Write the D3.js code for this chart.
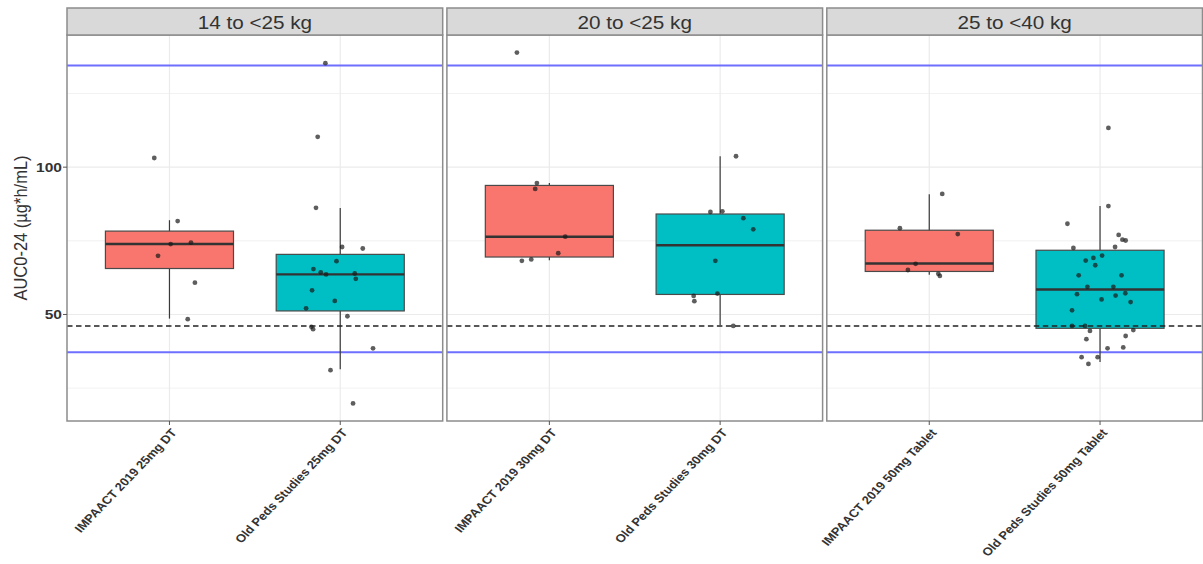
<!DOCTYPE html>
<html>
<head>
<meta charset="utf-8">
<script src="https://cdn.jsdelivr.net/npm/d3@7"></script>
<style>
  html, body { margin: 0; padding: 0; background: #ffffff; }
  svg { display: block; font-family: "Liberation Sans", Arial, sans-serif; }
</style>
</head>
<body>
<svg id="chart" width="1203" height="564"></svg>
<script>
// ---- Data -------------------------------------------------------------
const panelLabels = ["14 to <25 kg", "20 to <25 kg", "25 to <40 kg"];
const groupLabels = [
  ["IMPAACT 2019 25mg DT", "Old Peds Studies 25mg DT"],
  ["IMPAACT 2019 30mg DT", "Old Peds Studies 30mg DT"],
  ["IMPAACT 2019 50mg Tablet", "Old Peds Studies 50mg Tablet"]
];
const studyNames = ["IMPAACT 2019", "Old Peds Studies"];

// Box statistics, one entry per box (panel by panel, IMPAACT then Old Peds)
const q1          = [65.6, 51.2, 69.5, 56.8, 64.6, 45.3];
const medians     = [73.9, 63.6, 76.4, 73.5, 67.3, 58.5];
const q3          = [78.3, 70.4, 93.8, 84.1, 78.6, 71.8];
const whiskerLow  = [48.6, 31.4, 68.4, 46.4, 63.5, 33.9];
const whiskerHigh = [82.0, 86.1, 94.6, 103.7, 90.8, 86.8];

// Individual AUC0-24 values and their horizontal jitter (category units)
const auc_impaact_25 = [103.1, 81.7, 73.9, 74.4, 69.9, 60.8, 48.4];
const jit_impaact_25 = [-0.089, 0.048, 0.007, 0.126, -0.067, 0.149, 0.107];

const auc_oldpeds_25 = [135.3, 110.3, 86.2, 72.9, 72.4, 68.1, 65.4, 64.3, 63.6, 63.9,
                        62.1, 58.2, 54.6, 52.1, 49.4, 45.8, 45.0, 38.5, 31.1, 19.8];
const jit_oldpeds_25 = [-0.087, -0.132, -0.142, 0.011, 0.132, -0.022, -0.157, -0.114, -0.083, 0.085,
                        0.091, -0.165, -0.032, -0.200, 0.042, -0.169, -0.159, 0.192, -0.057, 0.075];

const auc_impaact_30 = [138.9, 94.6, 92.6, 76.4, 70.8, 68.7, 68.2];
const jit_impaact_30 = [-0.190, -0.073, -0.083, 0.093, 0.052, -0.106, -0.161];

const auc_oldpeds_30 = [103.7, 84.8, 85.0, 82.7, 78.9, 68.2, 56.3, 57.1, 54.5, 46.1];
const jit_oldpeds_30 = [0.093, -0.057, 0.013, 0.136, 0.194, -0.028, -0.155, -0.016, -0.151, 0.077];

const auc_impaact_50 = [90.9, 79.3, 77.3, 67.2, 65.1, 63.1, 63.8];
const jit_impaact_50 = [0.076, -0.172, 0.167, -0.080, -0.125, 0.062, 0.053];

const auc_oldpeds_50 = [113.3, 86.8, 80.8, 77.0, 75.4, 75.1, 72.6, 72.9, 68.3, 69.2, 70.0,
                        66.7, 63.3, 63.3, 59.4, 59.4, 56.9, 55.1, 56.4, 57.2, 54.2, 51.4,
                        46.1, 46.1, 44.4, 44.7, 42.7, 41.6, 38.5, 38.8, 35.5, 35.5, 33.2];
const jit_oldpeds_50 = [0.049, 0.049, -0.191, 0.109, 0.131, 0.150, -0.156, 0.088, -0.084, -0.039, 0.012,
                        -0.028, -0.125, 0.126, -0.074, 0.078, -0.135, 0.009, 0.091, 0.148, 0.179, -0.164,
                        -0.164, -0.088, -0.059, 0.195, 0.150, -0.080, 0.044, 0.136, -0.108, -0.014, -0.068];

// Reference lines: target exposure range (blue) and lower bound (dashed)
const targetRange = [37.2, 134.5];
const referenceAUC = 46.1;

// Axis breaks
const yTicks = [50, 100];
const yMinorTicks = [25, 75, 125];

// ---- Assemble boxes -----------------------------------------------------
const pointSets = [
  [auc_impaact_25, jit_impaact_25], [auc_oldpeds_25, jit_oldpeds_25],
  [auc_impaact_30, jit_impaact_30], [auc_oldpeds_30, jit_oldpeds_30],
  [auc_impaact_50, jit_impaact_50], [auc_oldpeds_50, jit_oldpeds_50]
];
const boxes = pointSets.map((ps, i) => ({
  panel: Math.floor(i / 2),
  study: studyNames[i % 2],
  label: groupLabels[Math.floor(i / 2)][i % 2],
  q1: q1[i], median: medians[i], q3: q3[i],
  lo: whiskerLow[i], hi: whiskerHigh[i],
  points: ps[0].map((v, j) => ({ value: v, jitter: ps[1][j] }))
}));

// ---- Layout -------------------------------------------------------------
const svg = d3.select("#chart");
const W = 1203, H = 564;
const panelLeft = 67, panelW = 375.7, panelGap = 4.2;
const stripTop = 8, panelTop = 35, panelBottom = 421;
const textStretch = 1.15;   // horizontal aspect of all lettering
const frameColor = "#8c8c8c";
const gridColor = "#ebebeb";

svg.append("rect").attr("width", W).attr("height", H).attr("fill", "#ffffff");

const allValues = boxes.flatMap(b => b.points.map(p => p.value));
const [vMin, vMax] = d3.extent(allValues);
const pad = (vMax - vMin) * 0.05;
const y = d3.scaleLinear().domain([vMin - pad, vMax + pad]).range([panelBottom, panelTop]);

const color = d3.scaleOrdinal().domain(studyNames).range(["#F8766D", "#00BFC4"]);

const panelX = i => panelLeft + i * (panelW + panelGap);

panelLabels.forEach((title, pi) => {
  const x0 = panelX(pi);
  const x = d3.scalePoint().domain(groupLabels[pi]).range([x0, x0 + panelW]).padding(0.6);
  const step = x.step();
  const g = svg.append("g");

  // panel background
  g.append("rect").attr("x", x0).attr("y", panelTop)
    .attr("width", panelW).attr("height", panelBottom - panelTop).attr("fill", "#ffffff");

  // minor and major grid
  g.selectAll(".gminor").data(yMinorTicks.filter(v => y(v) > panelTop && y(v) < panelBottom)).join("line")
    .attr("x1", x0).attr("x2", x0 + panelW)
    .attr("y1", d => y(d)).attr("y2", d => y(d))
    .attr("stroke", gridColor).attr("stroke-width", 0.7);
  g.selectAll(".gmajor").data(yTicks).join("line")
    .attr("x1", x0).attr("x2", x0 + panelW)
    .attr("y1", d => y(d)).attr("y2", d => y(d))
    .attr("stroke", gridColor).attr("stroke-width", 1.2);
  g.selectAll(".gx").data(groupLabels[pi]).join("line")
    .attr("x1", d => x(d)).attr("x2", d => x(d))
    .attr("y1", panelTop).attr("y2", panelBottom)
    .attr("stroke", gridColor).attr("stroke-width", 1.2);

  // target range lines
  g.selectAll(".target").data(targetRange).join("line")
    .attr("x1", x0).attr("x2", x0 + panelW)
    .attr("y1", d => y(d)).attr("y2", d => y(d))
    .attr("stroke", "#6f6fff").attr("stroke-width", 2);

  const pb = boxes.filter(b => b.panel === pi);
  const bw = step * 0.75;

  // whiskers
  g.selectAll(".whisker").data(pb).join("line")
    .attr("x1", d => x(d.label)).attr("x2", d => x(d.label))
    .attr("y1", d => y(d.lo)).attr("y2", d => y(d.hi))
    .attr("stroke", "#3a3a3a").attr("stroke-width", 1.2);

  // boxes
  g.selectAll(".box").data(pb).join("rect")
    .attr("x", d => x(d.label) - bw / 2).attr("width", bw)
    .attr("y", d => y(d.q3)).attr("height", d => y(d.q1) - y(d.q3))
    .attr("fill", d => color(d.study))
    .attr("stroke", "#4a4a4a").attr("stroke-width", 1.2);

  // medians
  g.selectAll(".median").data(pb).join("line")
    .attr("x1", d => x(d.label) - bw / 2).attr("x2", d => x(d.label) + bw / 2)
    .attr("y1", d => y(d.median)).attr("y2", d => y(d.median))
    .attr("stroke", "#333333").attr("stroke-width", 2.4);

  // reference AUC (dashed)
  g.append("line")
    .attr("x1", x0).attr("x2", x0 + panelW)
    .attr("y1", y(referenceAUC)).attr("y2", y(referenceAUC))
    .attr("stroke", "#222222").attr("stroke-width", 1.6)
    .attr("stroke-dasharray", "5.5,3.5");

  // jittered individual values
  pb.forEach(b => {
    g.selectAll(null).data(b.points).join("circle")
      .attr("cx", d => x(b.label) + d.jitter * step)
      .attr("cy", d => y(d.value))
      .attr("r", 2.4)
      .attr("fill", "#1a1a1a").attr("fill-opacity", 0.7);
  });

  // panel frame
  g.append("rect").attr("x", x0).attr("y", panelTop)
    .attr("width", panelW).attr("height", panelBottom - panelTop)
    .attr("fill", "none").attr("stroke", frameColor).attr("stroke-width", 1.5);

  // facet strip
  g.append("rect").attr("x", x0).attr("y", stripTop)
    .attr("width", panelW).attr("height", panelTop - stripTop)
    .attr("fill", "#d9d9d9").attr("stroke", frameColor).attr("stroke-width", 1.5);
  g.append("text")
    .attr("transform", `translate(${x0 + panelW / 2},${(stripTop + panelTop) / 2 + 1}) scale(${textStretch},1)`)
    .attr("text-anchor", "middle").attr("dominant-baseline", "central")
    .attr("font-size", 18).attr("fill", "#333333")
    .text(title);

  // x ticks and rotated category labels
  g.selectAll(".xtick").data(groupLabels[pi]).join("line")
    .attr("x1", d => x(d)).attr("x2", d => x(d))
    .attr("y1", panelBottom).attr("y2", panelBottom + 4)
    .attr("stroke", "#555555").attr("stroke-width", 1);
  g.selectAll(".xlab").data(groupLabels[pi]).join("text")
    .attr("transform", d => `translate(${x(d) + 8},${panelBottom + 12}) scale(${textStretch},1) rotate(-50)`)
    .attr("text-anchor", "end")
    .attr("font-size", 11.4).attr("font-weight", "bold").attr("fill", "#333333")
    .text(d => d);
});

// y axis (left panel only)
const ya = svg.append("g");
ya.selectAll("line").data(yTicks).join("line")
  .attr("x1", panelLeft - 4).attr("x2", panelLeft)
  .attr("y1", d => y(d)).attr("y2", d => y(d))
  .attr("stroke", "#555555").attr("stroke-width", 1);
ya.selectAll("text").data(yTicks).join("text")
  .attr("transform", d => `translate(${panelLeft - 5},${y(d)}) scale(${textStretch},1)`)
  .attr("text-anchor", "end").attr("dominant-baseline", "central")
  .attr("font-size", 13.5).attr("font-weight", "bold").attr("fill", "#333333")
  .text(d => d);

svg.append("text")
  .attr("transform", `translate(21,${(panelTop + panelBottom) / 2}) scale(${textStretch},1) rotate(-90)`)
  .attr("text-anchor", "middle").attr("dominant-baseline", "central")
  .attr("font-size", 16.5).attr("fill", "#333333")
  .text("AUC0-24 (µg*h/mL)");
</script>
</body>
</html>
